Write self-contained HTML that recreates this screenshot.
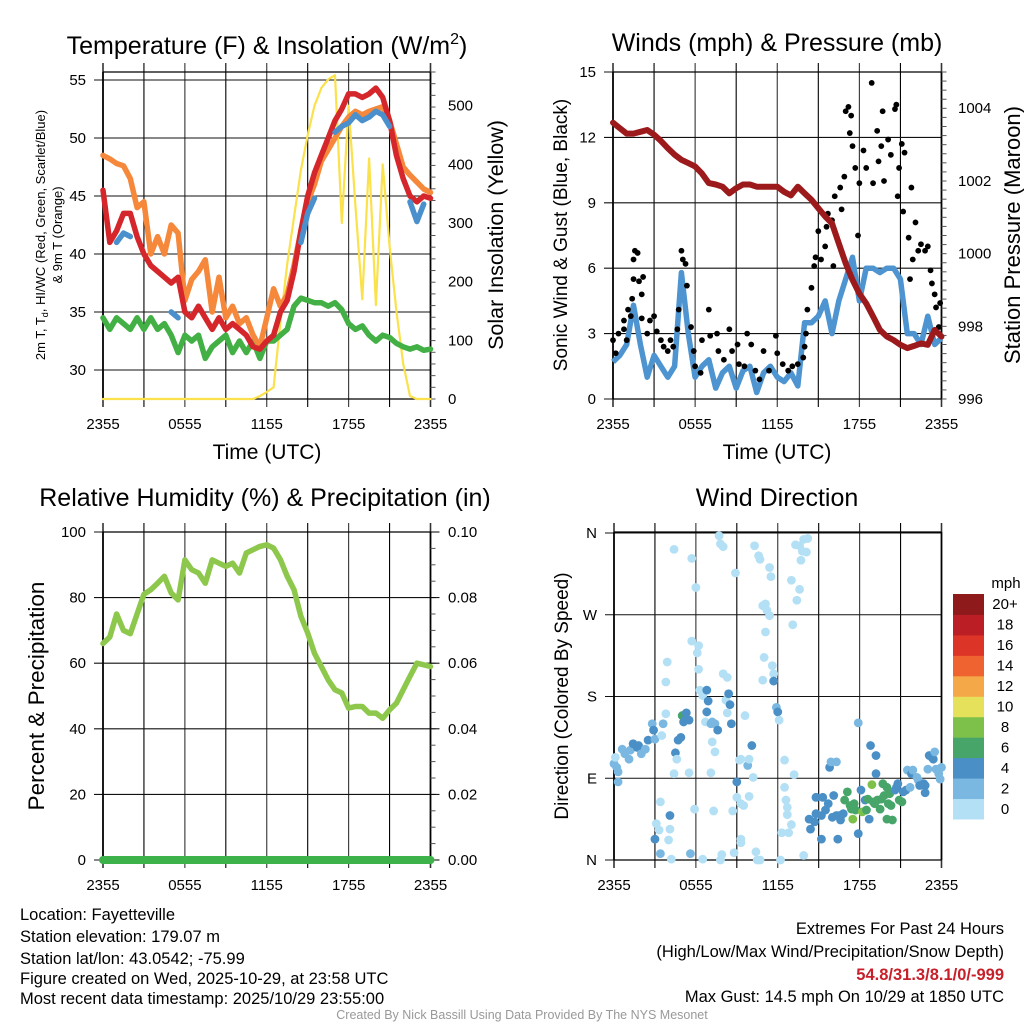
<!DOCTYPE html>
<html><head><meta charset="utf-8">
<style>
html,body{margin:0;padding:0;background:#fff;}
svg{display:block;font-family:"Liberation Sans",sans-serif;}
</style></head>
<body>
<svg id="fig" width="1024" height="1024" viewBox="0 0 1024 1024" xmlns="http://www.w3.org/2000/svg">
<g id="p1"></g>
<g id="p2"></g>
<g id="p3"></g>
<g id="p4"></g>
<g font-size="16.5" fill="#000">
<text x="20" y="920">Location: Fayetteville</text>
<text x="20" y="942">Station elevation: 179.07 m</text>
<text x="20" y="964">Station lat/lon: 43.0542; -75.99</text>
<text x="20" y="984">Figure created on Wed, 2025-10-29, at 23:58 UTC</text>
<text x="20" y="1004">Most recent data timestamp: 2025/10/29 23:55:00</text>
<text x="1004" y="934" text-anchor="end">Extremes For Past 24 Hours</text>
<text x="1004" y="957" text-anchor="end">(High/Low/Max Wind/Precipitation/Snow Depth)</text>
<text x="1004" y="980" text-anchor="end" fill="#c8202a" font-weight="bold">54.8/31.3/8.1/0/-999</text>
<text x="1004" y="1002" text-anchor="end">Max Gust: 14.5 mph On 10/29 at 1850 UTC</text>
<text x="522" y="1019" text-anchor="middle" font-size="12.5" fill="#999">Created By Nick Bassill Using Data Provided By The NYS Mesonet</text>
</g>
</svg>
<script>
// ---------- DATA ----------
const hours = [0,.5,1,1.5,2,2.5,3,3.5,4,4.5,5,5.5,6,6.5,7,7.5,8,8.5,9,9.5,10,10.5,11,11.5,12,12.5,13,13.5,14,14.5,15,15.5,16,16.5,17,17.5,18,18.5,19,19.5,20,20.5,21,21.5,22,22.5,23,23.5,24];
const timeTicks = ["2355","0555","1155","1755","2355"];
const tempTicks = [30,35,40,45,50,55];
const solarTicks = [0,100,200,300,400,500];
const windTicks = [0,3,6,9,12,15];
const presTicks = [996,998,1000,1002,1004];
const rhTicks = [0,20,40,60,80,100];
const precipTicks = ["0.00","0.02","0.04","0.06","0.08","0.10"];
const dirTicks = ["N","E","S","W","N"];
const speedBins = ["0","2","4","6","8","10","12","14","16","18","20+"];
const speedColors = ["#b4e0f6","#7ab8e2","#4a8fc6","#48a56a","#7dc14a","#e6e15a","#f5a847","#ee6330","#dd3428","#bb1e25","#8e1a1c"];

const temp9m = [48.5,48.2,47.8,47.6,46.5,44,44.5,40,41.5,40,42.5,41.8,36,37.8,38.5,39.5,35,38,34.5,35.5,34,34.5,33,32,34.5,37,35.5,36.5,39,42,44.5,46,48,49,50,51,51.8,52.3,52,52.3,52.5,52.7,51.5,49.5,47.5,46.8,46.2,45.6,45.3];
const temp2m = [45.5,41,42,43.5,43.5,41.5,40,39,38.5,38,37.5,38,35,34.5,35.5,34.5,33.5,34.5,33.5,34,33.5,33,32,31.8,32.5,33,35,36,38.5,42,45,47,48.5,50,51.5,52.5,53.8,53.8,53.5,53.8,54.3,53.5,51.5,48.5,46.5,45,44.5,45,44.8];
const heatIndex = [null,null,41,41.8,41.5,null,null,null,null,null,35,34.5,null,null,null,null,null,null,null,null,null,null,null,null,null,null,null,null,null,41,43.5,44.8,null,null,50.5,51,51.3,52,51.5,51.8,52.3,52,51,null,null,44.5,42.8,44.3,null];
const dewpoint = [34.5,33.5,34.5,34,33.5,34.5,33.5,34.5,33.5,34,33,31.5,33,32.5,33,31,32,32.5,33,31.5,32.5,31.5,32.5,31,32.5,32.5,33,33.5,35.5,36.2,36,35.8,35.8,35.5,35.8,35.2,34,33.5,33.8,33,32.5,33,32.8,32.3,32,31.8,32,31.7,31.8];
const solar = [0,0,0,0,0,0,0,0,0,0,0,0,0,0,0,0,0,0,0,0,0,0,0,5,12,20,130,230,310,390,450,500,530,545,552,300,500,330,170,410,160,400,260,150,60,5,0,0,0];

const windSpeed = [1.7,2,2.5,4.3,2.5,1,2,1.5,1,1.5,5.8,3,1,1.5,1.8,0.5,1.2,1.5,0.5,1.3,1.5,0.3,1.2,1.5,1,0.8,1.2,0.6,3.5,3.5,3.8,4.5,3,4.5,5.5,6.5,4.5,6,6,5.8,6,6,5.5,3,3,2.5,3.8,2.5,2.8];
const pressure = [1003.6,1003.45,1003.3,1003.3,1003.35,1003.4,1003.27,1003.1,1002.9,1002.72,1002.58,1002.49,1002.4,1002.2,1001.94,1001.9,1001.84,1001.66,1001.8,1001.9,1001.9,1001.84,1001.84,1001.84,1001.84,1001.7,1001.6,1001.84,1001.66,1001.48,1001.25,1001.02,1000.83,1000.28,999.73,999.28,998.9,998.63,998.27,997.9,997.72,997.62,997.49,997.4,997.46,997.53,997.49,997.9,997.72];
const gustHours = [0,0.2,0.4,0.8,1,0.8,1.3,1.1,1.4,1.5,1.5,1.6,1.8,1.9,2.1,2.2,2.1,2.5,2.7,3,3.2,3.5,3.7,4,4.2,4.4,4.7,4.8,5,5.1,5.3,5.4,5.7,5.9,6,6.4,6.5,7,7.1,7.6,7.7,8.1,8.5,8.7,9.1,9.2,9.6,9.8,10.1,10.4,10.7,11,11.4,11.9,12,12.4,12.8,13.1,13.5,13.9,14,14.1,14.2,14.5,14.7,14.8,15,15.2,15.5,15.6,15.7,16,16.1,16.2,16.6,16.7,16.9,17,17.2,17.3,17.4,17.5,17.7,17.9,18,18.3,18.5,18.9,19,19.3,19.4,19.6,19.7,19.8,20.1,20.3,20.6,20.7,20.8,20.9,21.1,21.2,21.3,21.6,21.7,21.8,21.9,22.1,22.3,22.5,22.8,23,23.2,23.3,23.5,23.6,23.9,23.8];
const gustSpeed = [2.7,2.1,3,3.2,2.7,3.6,3.8,4.1,4.6,5.5,6.4,6.8,6.7,5.4,4.8,5.6,3.7,3,3.6,3.8,3.1,2.7,2.4,2.2,2.7,2.4,3.2,4.1,6.8,6.4,6.2,5.2,3.3,2.2,1.5,1.2,2.7,4.1,2.9,3,2.2,1.8,3.2,2.2,2.5,1.6,1.5,3,2.5,1.3,0.9,2.2,1.3,2.9,2.1,1.6,1.3,1.5,1.6,1.9,2.4,3,4.1,5.1,6.1,6.5,7.7,6.4,7,7.9,8.5,8.2,6.1,9.3,9.7,8.7,10.2,13.2,13.4,12.2,13,11.6,10.6,7.5,9.9,11.4,10.6,14.5,9.9,12.3,10.9,11.6,13.2,10,11.9,11.2,13.3,13.5,9.3,10.6,11.7,8.6,11.3,7.4,5.5,9.7,6.4,8.1,6.8,7.1,6.8,7,5.9,5.3,4.8,4.2,4.4,3.3];

const rh = [66,68,75,70,69,75,81,82.4,84.4,86.5,81.4,79.3,91.5,88.5,87.5,84.4,91.5,90.5,89.5,90.5,87.5,93.6,94.6,95.6,96.1,95.1,91.6,86.5,82.4,74.3,69.2,63,59,54.9,51.9,50.9,46.3,46.8,46.8,44.8,44.8,43.2,45.8,47.8,51.9,56,60,59.5,59];
const precip = [0,0,0,0,0,0,0,0,0,0,0,0,0,0,0,0,0,0,0,0,0,0,0,0,0,0,0,0,0,0,0,0,0,0,0,0,0,0,0,0,0,0,0,0,0,0,0,0,0];

// wind direction observations: [hour, direction deg, speed mph]
const dirObs = [[0,106,3],[0.2,102,3],[0.3,97,3],[0.3,86,3],[0.1,113,1],[0.6,122,3],[0.8,117,3],[1.1,111,3],[1.2,121,3],[1.4,128,5],[1.7,124,5],[1.8,126,5],[2,117,3],[2.3,122,3],[2.5,132,5],[2.8,150,3],[2.9,143,5],[3,133,3],[3.5,137,1],[3.6,150,3],[3.8,161,1],[3.9,218,1],[3.8,196,1],[4.4,342,1],[4.5,118,5],[4.6,111,1],[4.7,132,5],[4.9,135,5],[5,159,7],[5.1,152,5],[5.2,154,5],[5.3,162,5],[5.5,154,5],[5.7,332,1],[6,300,1],[5.7,241,1],[6.1,228,1],[6.2,236,1],[6.2,210,1],[6.3,187,1],[6.5,181,1],[6.8,187,5],[6.9,175,5],[6.8,163,5],[6.7,152,1],[7.1,150,3],[7.2,152,3],[7.4,150,3],[7.6,143,5],[7.2,130,1],[7.4,119,1],[7.1,96,1],[7.7,357,1],[7.8,348,1],[8,345,1],[8,205,1],[8.3,201,1],[8.2,176,1],[8.4,183,5],[8.5,171,5],[8.3,162,1],[8.6,150,5],[8.9,316,1],[9,86,5],[9.2,110,1],[9.3,111,1],[9.6,159,1],[9.8,104,3],[9.9,111,1],[10.1,126,5],[10.2,91,1],[10.3,346,1],[10.6,335,1],[10.7,331,1],[10.9,280,1],[11.1,282,1],[11.2,275,1],[11.4,269,1],[11.1,251,1],[11,223,1],[11.6,214,1],[11.7,205,1],[11.7,197,5],[10.9,198,1],[11.9,168,3],[12,163,5],[12.1,154,1],[11.4,322,1],[11.5,312,1],[12.5,110,1],[13.2,94,1],[12.5,80,1],[12.6,66,1],[12.7,58,1],[12.7,50,1],[13,39,1],[12.3,30,1],[12.8,30,1],[13,308,1],[13.3,347,1],[13.6,346,1],[13.8,340,1],[13.9,353,1],[14.2,354,1],[14.1,339,1],[13.7,330,1],[13.6,298,1],[13.4,286,1],[13.1,259,1],[9,69,1],[9.3,62,1],[9.5,60,1],[9.9,70,1],[8.7,54,1],[7.3,54,1],[5.9,56,1],[4.4,95,1],[5.5,96,1],[3.4,64,1],[4.1,49,5],[3.1,40,1],[3.3,33,1],[4.1,34,1],[3,23,5],[4,22,1],[3.4,7,3],[4.2,1,1],[5.6,7,3],[6.5,1,1],[7.9,6,1],[7.8,0,1],[8.8,8,1],[9.3,23,1],[9.3,19,1],[10.4,9,1],[10.5,0,1],[10.7,0,1],[12.2,0,1],[13.9,5,1],
[14.3,45,5],[14.4,34,5],[14.7,42,5],[14.8,51,5],[14.8,69,5],[15.2,49,5],[15.2,23,5],[15.3,69,5],[15.5,55,5],[15.7,62,5],[15.8,102,5],[15.9,108,3],[16,47,5],[16.1,71,5],[16.3,49,5],[16.4,23,5],[16.5,49,5],[16.6,44,5],[16.8,51,5],[16.3,108,3],[16.9,66,7],[17.1,75,7],[17.3,60,7],[17.4,56,7],[17.5,45,9],[17.6,62,7],[17.7,55,7],[17.9,29,5],[17.9,151,3],[18.1,77,5],[18.2,53,9],[18.4,66,5],[18.5,55,7],[18.6,67,7],[18.7,45,5],[18.8,126,5],[18.9,83,9],[19,64,7],[19.1,62,7],[19.2,115,5],[19.2,95,5],[19.3,66,7],[19.5,56,7],[19.6,67,7],[19.7,84,7],[19.8,71,7],[20,80,7],[20,45,7],[20.1,62,7],[20.2,73,7],[20.3,60,7],[20.4,44,7],[20.6,77,5],[20.7,80,5],[20.8,84,5],[20.9,66,7],[21.1,64,7],[21.2,75,5],[21.4,77,5],[21.5,99,3],[21.7,80,3],[21.8,95,5],[21.9,99,3],[22.2,91,3],[22.3,88,3],[22.4,82,5],[22.7,84,5],[22.8,82,5],[22.8,74,5],[23,100,3],[23.1,115,5],[23.3,113,5],[23.4,111,5],[23.5,119,3],[23.6,100,3],[23.8,95,3],[23.9,89,3],[24,102,3]];

// ---------- HELPERS ----------
const NS="http://www.w3.org/2000/svg";
function mk(parent,tag,attrs){const e=document.createElementNS(NS,tag);for(const k in attrs)e.setAttribute(k,attrs[k]);parent.appendChild(e);return e;}
function txt(parent,x,y,s,size,anchor,extra){const t=mk(parent,"text",Object.assign({x:x,y:y,"font-size":size,"text-anchor":anchor||"start"},extra||{}));t.textContent=s;return t;}
function lineFrom(xs,ys,sx,sy){let d="",pen=false;for(let i=0;i<xs.length;i++){if(ys[i]===null||ys[i]===undefined){pen=false;continue;}d+=(pen?"L":"M")+sx(xs[i]).toFixed(1)+","+sy(ys[i]).toFixed(1);pen=true;}return d;}

function frame(g,x0,x1,yT,yB,hLines,sy){
  for(let h=0;h<=24;h+=3){const x=x0+(x1-x0)*h/24;
    const l=mk(g,"line",{x1:x,x2:x,y1:yT-9,y2:yB+8,stroke:(h%6==0)?"#333":"#000","stroke-width":(h==0||h==24)?1.6:1.1});
    
    }
  hLines.forEach(v=>{const y=sy(v);
    const l=mk(g,"line",{x1:x0-9,x2:x1,y1:y,y2:y,stroke:"#111","stroke-width":1.1});
    
    });
  mk(g,"line",{x1:x0,x2:x0,y1:yT,y2:yB,stroke:"#000","stroke-width":1.6});
  mk(g,"line",{x1:x1,x2:x1,y1:yT,y2:yB,stroke:"#000","stroke-width":1.6});
  mk(g,"line",{x1:x0,x2:x1,y1:yT,y2:yT,stroke:"#000","stroke-width":1.2});
  mk(g,"line",{x1:x0,x2:x1,y1:yB,y2:yB,stroke:"#000","stroke-width":1.2});
}
function timeLabels(g,x0,x1,y){timeTicks.forEach((s,i)=>{const t=txt(g,x0+(x1-x0)*i/4,y,s,15,"middle");
  
  });}
function rightMinor(g,x1,yT,yB,n){for(let i=0;i<=n;i++){const y=yB-(yB-yT)*i/n;
  mk(g,"line",{x1:x1,x2:x1+5,y1:y,y2:y,stroke:"#555","stroke-width":1});}}

// ---------- PANEL 1 ----------
(function(){
const g=document.getElementById("p1");
const x0=103,x1=430.5,yT=72,yB=399;
const sx=h=>x0+(x1-x0)*h/24;
const sy=v=>399-(v-27.5)*11.6;
const sr=s=>399-s*0.5866;
txt(g,267,54,"Temperature (F) & Insolation (W/m",25,"middle",{}).innerHTML='Temperature (F) &amp; Insolation (W/m<tspan font-size="16" dy="-10">2</tspan><tspan dy="10">)</tspan>';
frame(g,x0,x1,yT,yB,tempTicks,sy);
rightMinor(g,x1,yT,yB,28);
tempTicks.forEach(v=>{const t=txt(g,86,sy(v)+5,String(v),15,"end");});
solarTicks.forEach(v=>{const t=txt(g,448,sr(v)+5,String(v),15,"start");});
timeLabels(g,x0,x1,429);
txt(g,267,459,"Time (UTC)",21,"middle",{});
const lt=mk(g,"text",{transform:"translate(45,235) rotate(-90)","font-size":13,"text-anchor":"middle",});
lt.innerHTML='2m T, T<tspan font-size="9" dy="3">d</tspan><tspan dy="-3">, HI/WC (Red, Green, Scarlet/Blue)</tspan>';
txt(g,0,0,"& 9m T (Orange)",13,"middle",{transform:"translate(62,235) rotate(-90)",});
txt(g,0,0,"Solar Insolation (Yellow)",21.5,"middle",{transform:"translate(503,235) rotate(-90)",});
const ser=[[solar,"#fbe14b",2.2,sr,"solar-line"],[dewpoint,"#42b044",5.5,sy,"dewpoint-line"],[temp9m,"#f5883a",5.5,sy,"temp-9m-line"],[temp2m,"#d4262b",5.5,sy,"temp-2m-line"],[heatIndex,"#4a90cc",5.5,sy,"heat-index-line"]];
ser.forEach(s=>{const p=mk(g,"path",{d:lineFrom(hours,s[0],sx,s[3]),fill:"none",stroke:s[1],"stroke-width":s[2],"stroke-linejoin":"round","stroke-linecap":"round"});
  
  });
})();

// ---------- PANEL 2 ----------
(function(){
const g=document.getElementById("p2");
const x0=613,x1=941.5,yT=72,yB=399;
const sx=h=>x0+(x1-x0)*h/24;
const sy=v=>399-v*21.8;
const sp=p=>399-(p-996)*36.35;
txt(g,777,51,"Winds (mph) & Pressure (mb)",25,"middle",{});
frame(g,x0,x1,yT,yB,windTicks,sy);
rightMinor(g,x1,yT,yB,36);
windTicks.forEach(v=>{const t=txt(g,596,sy(v)+5,String(v),15,"end");});
presTicks.forEach(v=>{const t=txt(g,958,sp(v)+5,String(v),15,"start");});
timeLabels(g,x0,x1,429);
txt(g,777,459,"Time (UTC)",21,"middle",{});
txt(g,0,0,"Sonic Wind & Gust (Blue, Black)",19,"middle",{transform:"translate(567,235) rotate(-90)",});
txt(g,0,0,"Station Pressure (Maroon)",22,"middle",{transform:"translate(1020,235) rotate(-90)",});
const w=mk(g,"path",{d:lineFrom(hours,windSpeed,sx,sy),fill:"none",stroke:"#4d94d0","stroke-width":5.5,"stroke-linejoin":"round"});


gustHours.forEach((h,i)=>{const c=mk(g,"circle",{cx:sx(h),cy:sy(gustSpeed[i]),r:2.9,fill:"#000"});
  
  });
const p=mk(g,"path",{d:lineFrom(hours,pressure,sx,sp),fill:"none",stroke:"#9c1a1c","stroke-width":6,"stroke-linejoin":"round","stroke-linecap":"round"});


})();

// ---------- PANEL 3 ----------
(function(){
const g=document.getElementById("p3");
const x0=103,x1=430.5,yT=532,yB=860;
const sx=h=>x0+(x1-x0)*h/24;
const sy=v=>860-v*3.28;
const spr=v=>860-v*3280;
txt(g,265,506,"Relative Humidity (%) & Precipitation (in)",25,"middle",{});
frame(g,x0,x1,yT,yB,rhTicks,sy);
rightMinor(g,x1,yT,yB,20);
rhTicks.forEach((v,i)=>{const t=txt(g,86,sy(v)+5,String(v),15,"end");
  const r=txt(g,448,sy(v)+5,precipTicks[i],15,"start");
  mk(g,"line",{x1:x1,x2:x1+9,y1:sy(v),y2:sy(v),stroke:"#000","stroke-width":1});});
timeLabels(g,x0,x1,890);
txt(g,0,0,"Percent & Precipitation",22.5,"middle",{transform:"translate(44,696) rotate(-90)",});
const r=mk(g,"path",{d:lineFrom(hours,rh,sx,sy),fill:"none",stroke:"#8dc84c","stroke-width":5.5,"stroke-linejoin":"round","stroke-linecap":"round"});


const pr=mk(g,"path",{d:lineFrom(hours,precip,sx,spr),fill:"none",stroke:"#3db24a","stroke-width":8,"stroke-linecap":"round"});


})();

// ---------- PANEL 4 ----------
(function(){
const g=document.getElementById("p4");
const x0=614,x1=941.5,yT=532,yB=860;
const sx=h=>x0+(x1-x0)*h/24;
const sy=d=>860-d*0.9083;
txt(g,777,506,"Wind Direction",25,"middle",{});
frame(g,x0,x1,yT,yB,[0,90,180,270,360],sy);
dirTicks.forEach((s,i)=>{const t=txt(g,597,sy(i*90)+5,s,15,"end");});
timeLabels(g,x0,x1,890);
txt(g,0,0,"Direction (Colored By Speed)",19,"middle",{transform:"translate(568,696) rotate(-90)",});
const colorFor=s=>speedColors[Math.min(10,Math.floor(s/2))];
dirObs.forEach(o=>{const c=mk(g,"circle",{cx:sx(o[0]),cy:sy(o[1]),r:4.4,fill:colorFor(o[2])});
  
  });
const cbT=594,cbB=819,cbX=953,cbW=31,n=speedBins.length,hseg=(cbB-cbT)/n;
txt(g,1006,588,"mph",15,"middle",{});
speedBins.forEach((lab,i)=>{const y=cbB-(i+1)*hseg;
  const rc=mk(g,"rect",{x:cbX,y:y,width:cbW,height:hseg+0.5,fill:speedColors[i]});
  
  
  const t=txt(g,1005,y+hseg/2+5,lab,15,"middle");
  
  });
})();
</script>
</body></html>
